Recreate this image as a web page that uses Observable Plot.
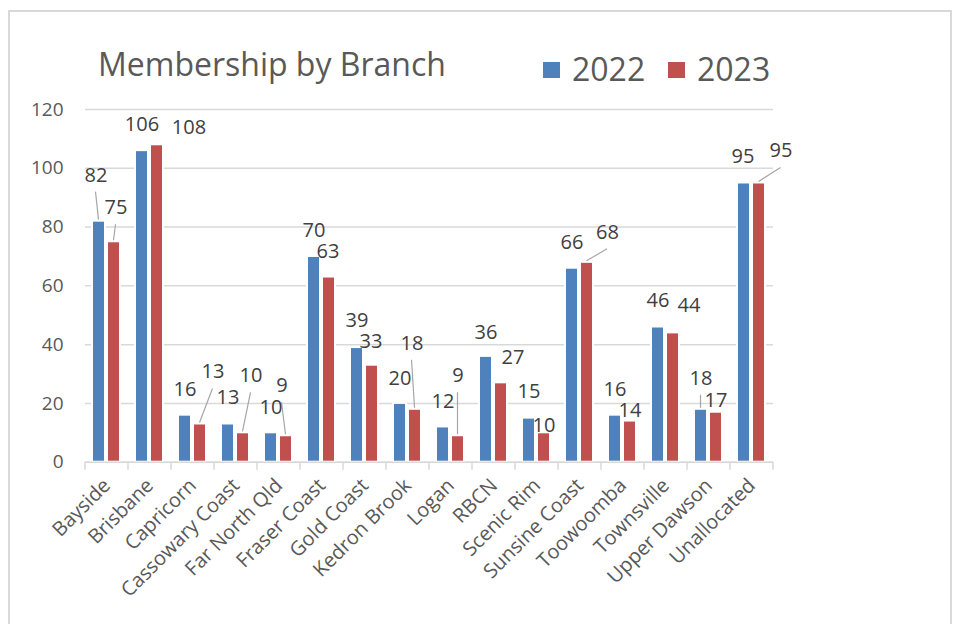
<!DOCTYPE html>
<html>
<head>
<meta charset="utf-8">
<script src="https://cdn.jsdelivr.net/npm/d3@7"></script>
<script src="https://cdn.jsdelivr.net/npm/@observablehq/plot@0.6"></script>
<style>
  body { margin: 0; background: #fff; font-family: "Open Sans", sans-serif; }
  #wrap { position: relative; width: 955px; height: 624px; overflow: hidden; background: #fff; }
  #frame { position: absolute; left: 8px; top: 10px; width: 944px; height: 700px; border: 2px solid #d9d9d9; box-sizing: border-box; z-index: 2; pointer-events: none; }
  #header { position: relative; height: 90px; }
  #title { position: absolute; left: 98px; top: 47.6px; font-size: 32px; line-height: 32px; color: #595959; white-space: nowrap; }
  .sw { position: absolute; top: 62px; width: 17px; height: 16px; }
  .lg { position: absolute; top: 52.6px; font-size: 32px; line-height: 32px; color: #595959; white-space: nowrap; }
</style>
</head>
<body>
<div id="wrap">
  <div id="frame"></div>
  <div id="header">
    <div id="title">Membership by Branch</div>
    <div class="sw" id="sw0" style="left:543px"></div>
    <div class="lg" id="lg0" style="left:572px"></div>
    <div class="sw" id="sw1" style="left:668px"></div>
    <div class="lg" id="lg1" style="left:697px"></div>
  </div>
  <div id="chart"></div>
</div>
<script>
// ---- data ----
const categories = ["Bayside", "Brisbane", "Capricorn", "Cassowary Coast", "Far North Qld", "Fraser Coast", "Gold Coast", "Kedron Brook", "Logan", "RBCN", "Scenic Rim", "Sunsine Coast", "Toowoomba", "Townsville", "Upper Dawson", "Unallocated"];
const seriesNames = ["2022", "2023"];
const values2022 = [82, 106, 16, 13, 10, 70, 39, 20, 12, 36, 15, 66, 16, 46, 18, 95];
const values2023 = [75, 108, 13, 10, 9, 63, 33, 18, 9, 27, 10, 68, 14, 44, 17, 95];
const yTicks = [0, 20, 40, 60, 80, 100, 120];

// ---- label layout (pixel nudges from each bar top, as placed in the original) ----
const nudge2022 = [[-3,-46],[0,-26],[0,-26],[0,-26],[0,-25],[0,-26],[0,-27],[0,-25],[0,-25],[0,-24],[0,-27],[0,-26],[0,-26],[0,-26],[0,-31],[-1,-26]];
const nudge2023 = [[2,-34],[32,-17],[13,-52],[8,-57],[-4,-50],[-1,-25],[-1,-24],[-3,-66],[0,-60],[12,-25],[0,-7],[20.5,-30],[0,-10],[16,-27],[0,-12],[22,-32]];
const leader2022 = [true,false,false,false,false,false,false,false,false,false,false,false,false,false,true,false];
const leader2023 = [true,false,true,true,true,false,false,true,true,false,false,true,false,false,false,true];

const colors = ["#4F81BD", "#C0504D"];
const textColor = "#595959";
const labelColor = "#404040";

// legend
seriesNames.forEach((s, i) => {
  document.getElementById("sw" + i).style.background = colors[i];
  document.getElementById("lg" + i).textContent = s;
});

const rows = [];
categories.forEach((c, i) => {
  rows.push({branch: c, year: seriesNames[0], value: values2022[i]});
  rows.push({branch: c, year: seriesNames[1], value: values2023[i]});
});

// bar geometry within each 43px category band
const series = [
  {name: seriesNames[0], vals: values2022, nudge: nudge2022, leader: leader2022, insetLeft: 7, insetRight: 23, off: -8},
  {name: seriesNames[1], vals: values2023, nudge: nudge2023, leader: leader2023, insetLeft: 22, insetRight: 8, off: 7}
];

const marks = [
  Plot.gridY(yTicks, {stroke: "#d9d9d9", strokeOpacity: 1, strokeWidth: 1.5}),
  Plot.axisY(yTicks, {tickSize: 0, tickPadding: 22, fontSize: 19, fill: textColor, label: null}),
];
series.forEach((s, k) => {
  marks.push(Plot.barY(rows.filter(r => r.year === s.name), {
    x: "branch", y: "value", fill: colors[k], stroke: "white", strokeWidth: 2,
    insetLeft: s.insetLeft, insetRight: s.insetRight
  }));
});
marks.push(Plot.ruleY([0], {stroke: "#d9d9d9", strokeWidth: 1.5}));
// category boundary ticks + leader lines
marks.push((index, scales) => {
  const x = scales.x, y = scales.y;
  const bw = x.bandwidth();
  const g = d3.create("svg:g");
  const bounds = categories.map(c => x(c)).concat([x(categories[categories.length - 1]) + bw]);
  g.selectAll("line.tk").data(bounds).join("line").attr("class", "tk")
    .attr("x1", d => d).attr("x2", d => d)
    .attr("y1", y(0)).attr("y2", y(0) + 8)
    .attr("stroke", "#d9d9d9").attr("stroke-width", 1.5);
  const segs = [];
  series.forEach(s => {
    categories.forEach((c, i) => {
      if (!s.leader[i]) return;
      const cx = x(c) + bw / 2 + s.off;
      const top = y(s.vals[i]);
      segs.push([cx + s.nudge[i][0], top + s.nudge[i][1] + 17, cx, top - 1]);
    });
  });
  g.selectAll("line.ld").data(segs).join("line").attr("class", "ld")
    .attr("x1", d => d[0]).attr("y1", d => d[1]).attr("x2", d => d[2]).attr("y2", d => d[3])
    .attr("stroke", "#a6a6a6").attr("stroke-width", 1.2);
  return g.node();
});
marks.push(Plot.axisX({tickSize: 0, tickPadding: 20, tickRotate: -45, fontSize: 20, fill: textColor, label: null}));
series.forEach(s => {
  categories.forEach((c, i) => {
    marks.push(Plot.text([{branch: c, value: s.vals[i]}], {
      x: "branch", y: "value", text: d => String(d.value),
      dx: s.off + s.nudge[i][0], dy: s.nudge[i][1],
      fontSize: 20, fill: labelColor
    }));
  });
});

const chart = Plot.plot({
  width: 955,
  height: 534,
  marginLeft: 85,
  marginRight: 182,
  marginTop: 19,
  marginBottom: 162.3,
  style: {fontFamily: "Open Sans", background: "transparent", overflow: "visible"},
  x: {domain: categories, padding: 0, round: false, axis: null},
  y: {domain: [0, 120], axis: null},
  marks
});
document.getElementById("chart").appendChild(chart);
</script>
</body>
</html>
